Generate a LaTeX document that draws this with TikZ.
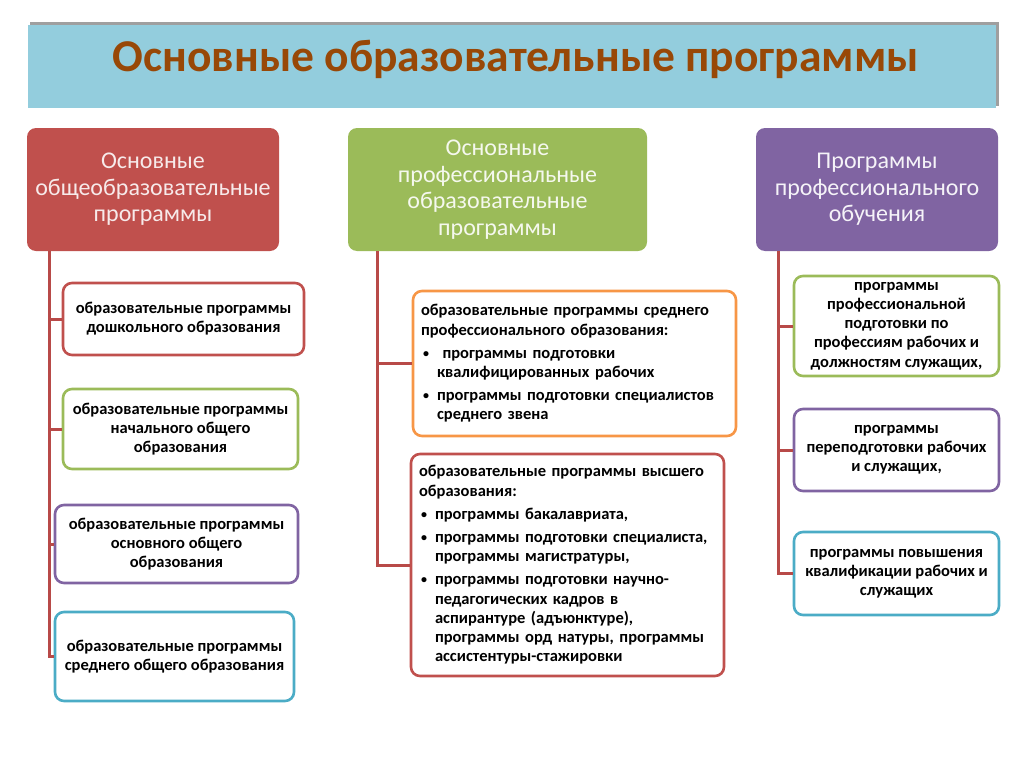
\documentclass[tikz,border=0pt]{standalone}
\usepackage{fontspec}
\setmainfont{Carlito}
\usetikzlibrary{calc}
\definecolor{banner}{HTML}{93CDDD}
\definecolor{titlec}{HTML}{984807}
\definecolor{cred}{HTML}{C0504D}
\definecolor{cgreen}{HTML}{9BBB59}
\definecolor{cpurple}{HTML}{8064A2}
\definecolor{ccyan}{HTML}{4BACC6}
\definecolor{corange}{HTML}{F79646}
\definecolor{conn}{HTML}{B84A48}
\newcommand{\itm}[1]{\par\vspace{4pt}\noindent\hangindent=16pt\hangafter=1\makebox[16pt][l]{\hspace{2pt}\raisebox{1pt}{\fontsize{12}{12}\selectfont\textbullet}}#1\par}
\begin{document}
\begin{tikzpicture}[x=1pt,y=-1pt,
  header/.style={rounded corners=9pt, inner sep=0pt, align=center,
    font=\fontsize{24}{26.5}\selectfont},
  sub/.style={draw=#1, line width=2.6pt, fill=white, rounded corners=9pt,
    inner sep=0pt, align=center, font=\bfseries\fontsize{16.5}{19.2}\selectfont},
  connline/.style={draw=conn, line width=3pt}]
\useasboundingbox (0,0) rectangle (1024,768);
% banner
\fill[gray!75] (30,22) rectangle (998.5,106);
\node[fill=banner, minimum width=968pt, minimum height=83pt, inner sep=0pt] (banner) at (512,66.5) {};
\node[text=titlec, font=\bfseries\fontsize{45.5}{48}\selectfont] (title) at (516,59) {Основные образовательные программы};
% headers
\node[header, fill=cred, minimum width=252pt, minimum height=123pt, text=white!88!cred] (h1) at (153,189.5)
  {Основные\\общеобразовательные\\программы};
\node[header, fill=cgreen, minimum width=299pt, minimum height=123pt, text=white!90!cgreen] (h2) at (497.5,189.5)
  {Основные\\профессиональные\\образовательные\\программы};
\node[header, fill=cpurple, minimum width=242pt, minimum height=123pt, text=white!92!cpurple] (h3) at (877,189.5)
  {Программы\\профессионального\\обучения};
% trunk coordinates
\coordinate (t1) at (49,251);
\coordinate (t2) at (377,251);
\coordinate (t3) at (778,251);
% left column
\node[sub=cred, minimum width=241pt, minimum height=72pt] (b1) at (183.5,319)
  {образовательные программы\\дошкольного образования};
\node[sub=cgreen, minimum width=235pt, minimum height=80pt] (b2) at (180.5,429)
  {образовательные программы\\начального общего\\образования};
\node[sub=cpurple, minimum width=243pt, minimum height=78pt] (b3) at (176.5,544)
  {образовательные программы\\основного общего\\образования};
\node[sub=ccyan, minimum width=239pt, minimum height=89pt] (b4) at (174.5,656.5)
  {образовательные программы\\среднего общего образования};
% middle column
\node[sub=corange, minimum width=323pt, minimum height=145pt, text width=307pt, align=left] (b5) at (574.5,363.5)
  {\raggedright образовательные программы среднего\newline профессионального образования:
   \itm{\ программы подготовки\newline квалифицированных рабочих}
   \itm{программы подготовки специалистов\newline среднего звена}};
\node[sub=cred, minimum width=313pt, minimum height=222pt, text width=297pt, align=left] (b6) at (567.5,565)
  {\raggedright образовательные программы высшего\newline образования:
   \itm{программы бакалавриата,}
   \itm{программы подготовки специалиста,\newline программы магистратуры,}
   \itm{программы подготовки научно-\newline педагогических кадров в\newline аспирантуре (адъюнктуре),\newline программы орд натуры, программы\newline ассистентуры-стажировки}};
% right column
\node[sub=cgreen, minimum width=205pt, minimum height=100pt] (b7) at (896.5,326)
  {программы\\профессиональной\\подготовки по\\профессиям рабочих и\\должностям служащих,};
\node[sub=cpurple, minimum width=205pt, minimum height=82pt] (b8) at (896.5,450)
  {программы\\переподготовки рабочих\\и служащих,};
\node[sub=ccyan, minimum width=205pt, minimum height=83pt] (b9) at (896.5,573.5)
  {программы повышения\\квалификации рабочих и\\служащих};
% connectors
\draw[connline] (t1) |- (b4.west);
\draw[connline] (t1 |- b1.west) -- (b1.west);
\draw[connline] (t1 |- b2.west) -- (b2.west);
\draw[connline] (t1 |- b3.west) -- (b3.west);
\draw[connline] (t2) |- (b6.west);
\draw[connline] (t2 |- b5.west) -- (b5.west);
\draw[connline] (t3) |- (b9.west);
\draw[connline] (t3 |- b7.west) -- (b7.west);
\draw[connline] (t3 |- b8.west) -- (b8.west);
\end{tikzpicture}
\end{document}
